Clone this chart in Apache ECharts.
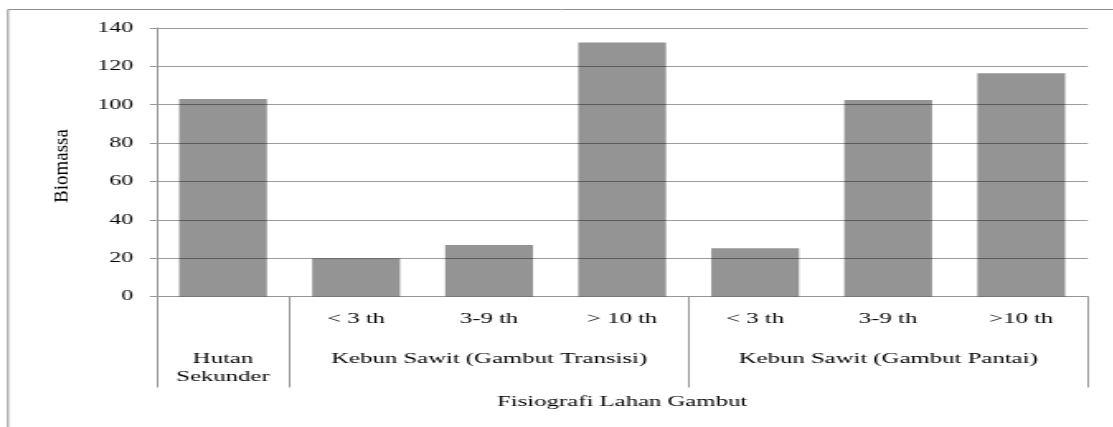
<!DOCTYPE html>
<html>
<head>
<meta charset="utf-8">
<script src="https://cdn.jsdelivr.net/npm/echarts@6/dist/echarts.min.js"></script>
<style>
html, body { margin: 0; padding: 0; background: #ffffff; overflow: hidden; }
#c { position: absolute; left: 0; top: 0; height: 427px; transform-origin: 0 0; }
</style>
</head>
<body>
<div id="c"></div>
<script>
// ---- data ----
const categories = ['Hutan Sekunder', 'Transisi < 3 th', 'Transisi 3-9 th', 'Transisi > 10 th', 'Pantai < 3 th', 'Pantai 3-9 th', 'Pantai >10 th'];
const biomassa = [103, 20, 26.8, 132.5, 25.1, 102.4, 116.4];
const ageLabels = ['', '< 3 th', '3-9 th', '> 10 th', '< 3 th', '3-9 th', '>10 th'];
const groupLabels = ['Hutan\nSekunder', '', 'Kebun Sawit (Gambut Transisi)', '', '', 'Kebun Sawit (Gambut Pantai)', ''];
const groupStarts = [0, 1, 4];
const yMin = 0, yMax = 140, yStep = 20;
const yTitle = 'Biomassa';
const xTitle = 'Fisiografi Lahan Gambut';

// horizontal stretch of the original rendering
const S = 1.65;
const W = 1113 / S;
const el = document.getElementById('c');
el.style.width = W + 'px';
el.style.transform = 'scaleX(' + S + ')';

const FONT = '"Liberation Serif", "Times New Roman", serif';
const GRID_C = '#9c9c9c';
const LINE_C = '#969696';

const chart = echarts.init(el, null, { renderer: 'canvas' });
chart.setOption({
  animation: false,
  backgroundColor: '#ffffff',
  grid: { left: 156.5 / S, right: W - 1087 / S, top: 28, bottom: 427 - 296.5, containLabel: false },
  xAxis: [
    {
      type: 'category',
      data: categories,
      position: 'bottom',
      axisLine: { show: true, lineStyle: { color: LINE_C, width: 1 } },
      axisTick: { show: false },
      axisLabel: {
        interval: 0, margin: 15, fontFamily: FONT, fontSize: 15, color: '#000',
        formatter: function (v, i) { return ageLabels[i]; }
      },
      name: xTitle,
      nameLocation: 'middle',
      nameGap: 98,
      nameTextStyle: { fontFamily: FONT, fontSize: 15, color: '#000' }
    },
    {
      type: 'category',
      data: categories,
      position: 'bottom',
      gridIndex: 0,
      axisLine: { show: false },
      axisTick: {
        show: true, length: 91,
        interval: function (i) { return groupStarts.indexOf(i) >= 0; },
        lineStyle: { color: LINE_C, width: 1 }
      },
      axisLabel: {
        interval: 0, margin: 54, fontFamily: FONT, fontSize: 15, lineHeight: 18, color: '#000',
        formatter: function (v, i) { return groupLabels[i]; }
      },
      splitLine: { show: false }
    }
  ],
  yAxis: {
    type: 'value',
    min: yMin, max: yMax, interval: yStep,
    axisLine: { show: true, lineStyle: { color: LINE_C, width: 1 } },
    axisTick: { show: true, inside: false, length: 4, lineStyle: { color: LINE_C } },
    axisLabel: { margin: 14, fontFamily: FONT, fontSize: 14.5, color: '#000' },
    splitLine: { show: true, lineStyle: { color: GRID_C, width: 1 } }
  },
  graphic: [
    {
      type: 'rect', silent: true, z: -10,
      shape: { x: 8 / S, y: 9.5, width: 900, height: 600 },
      style: { fill: 'none', stroke: '#8f8f8f', lineWidth: 1 }
    },
    {
      type: 'group', x: 0, y: 0, scaleX: 1 / S, silent: true,
      children: [
        {
          type: 'text', x: 62, y: 166, rotation: Math.PI / 2,
          style: { text: yTitle, font: '19px ' + FONT, fill: '#000', align: 'center', verticalAlign: 'middle' }
        }
      ]
    }
  ],
  series: [
    {
      type: 'bar',
      xAxisIndex: 0,
      data: biomassa,
      barCategoryGap: '34%',
      itemStyle: { color: 'rgba(0,0,0,0.42)' }
    }
  ]
});
</script>
</body>
</html>
